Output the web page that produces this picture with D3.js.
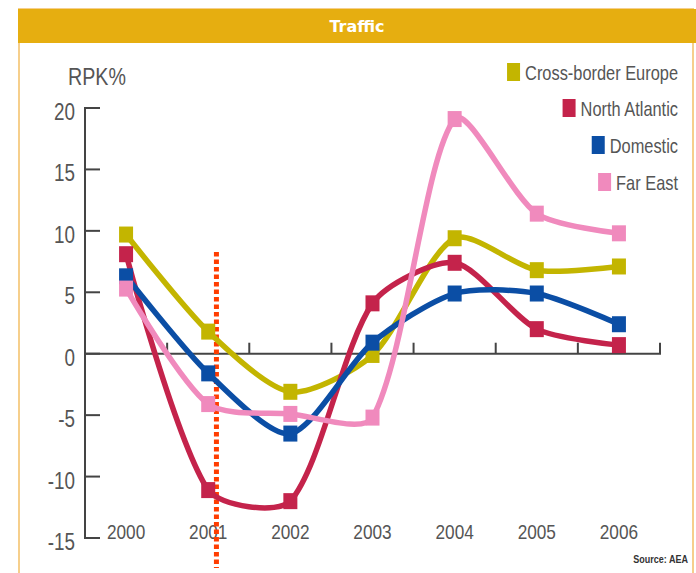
<!DOCTYPE html>
<html>
<head>
<meta charset="utf-8">
<script src="https://cdn.jsdelivr.net/npm/d3@7"></script>
<style>
  body { margin: 0; background: #fff; }
  svg text { font-family: "Liberation Sans", Arial, sans-serif; }
</style>
</head>
<body>
<div id="chart"></div>
<script>
// traffic chart - RPK growth by market
var years = [2000, 2001, 2002, 2003, 2004, 2005, 2006];
var yTicks = [20, 15, 10, 5, 0, -5, -10, -15];

var seriesNames = ["Cross-border Europe", "North Atlantic", "Domestic", "Far East"];
var crossBorder = [9.7, 1.8, -3.1, -0.1, 9.4, 6.8, 7.1];
var northAtlantic = [8.1, -11.1, -12.0, 4.1, 7.4, 2.0, 0.7];
var domestic = [6.3, -1.6, -6.5, 0.9, 4.9, 4.9, 2.4];
var farEast = [5.3, -4.1, -4.9, -5.2, 19.1, 11.4, 9.8];
var markerYear = 2001.1; // dotted line

var colors = ["#c3b500", "#c4234b", "#0b4ea5", "#f08abd"];
var allSeries = [crossBorder, northAtlantic, domestic, farEast];

var W = 696, H = 573;
var sx = 0.82; // squeeze text, the original font is narrow
var smooth = 0.26;

var svg = d3.select('#chart')
    .append('svg')
    .attr('width', W)
    .attr('height', H);

function tr(x, y) { return 'translate(' + x + ',' + y + ') scale(' + sx + ',1)'; }

// frame + header band
svg.append('rect')
    .attr('x', 19).attr('y', 9)
    .attr('width', 674).attr('height', H)
    .attr('fill', '#fff')
    .attr('stroke', '#f6cf8c')
    .attr('stroke-width', 2);
svg.append('rect')
    .attr('x', 18).attr('y', 9)
    .attr('width', W - 18).attr('height', 34)
    .attr('fill', '#e6ae10');
svg.append('text')
    .attr('x', 357).attr('y', 32)
    .attr('text-anchor', 'middle')
    .attr('fill', '#fff')
    .style('font-family', '"DejaVu Sans", sans-serif')
    .style('font-weight', 'bold')
    .style('font-size', '16px')
    .text('Traffic');

var x = d3.scaleBand().domain(years).range([85, 660]).padding(0);
var y = d3.scaleLinear().domain([-15, 20]).range([538, 108]);

// y axis: line with ticks pointing right
var yAxis = svg.append('g');
yAxis.append('line')
    .attr('x1', 85).attr('x2', 85)
    .attr('y1', y(20)).attr('y2', y(-15))
    .attr('stroke', '#444').attr('stroke-width', 2);
yAxis.selectAll('.yt')
    .data(yTicks)
    .enter()
    .append('line')
    .attr('x1', 84).attr('x2', 100)
    .attr('y1', d => y(d)).attr('y2', d => y(d))
    .attr('stroke', '#444').attr('stroke-width', 2);
yAxis.selectAll('.yl')
    .data(yTicks)
    .enter()
    .append('text')
    .attr('transform', d => tr(75, y(d) + 12))
    .attr('text-anchor', 'end')
    .attr('fill', '#555')
    .style('font-size', '23px')
    .text(d => d);

svg.append('text')
    .attr('transform', tr(68, 85))
    .attr('fill', '#555')
    .style('font-size', '24px')
    .text('RPK%');

// x axis at zero, ticks between the years
svg.append('line')
    .attr('x1', 85).attr('x2', 661)
    .attr('y1', y(0)).attr('y2', y(0))
    .attr('stroke', '#444').attr('stroke-width', 2);
svg.selectAll('.xt')
    .data(years)
    .enter()
    .append('line')
    .attr('x1', d => x(d) + x.bandwidth()).attr('x2', d => x(d) + x.bandwidth())
    .attr('y1', y(0)).attr('y2', y(0) - 11)
    .attr('stroke', '#444').attr('stroke-width', 2);
svg.selectAll('.xl')
    .data(years)
    .enter()
    .append('text')
    .attr('transform', d => tr(x(d) + x.bandwidth() / 2, 539))
    .attr('text-anchor', 'middle')
    .attr('fill', '#555')
    .style('font-size', '21px')
    .text(d => d);

// dotted line
var xm = x(2001) + x.bandwidth() / 2 + (markerYear - 2001) * x.bandwidth();
svg.append('line')
    .attr('x1', xm).attr('x2', xm)
    .attr('y1', 252).attr('y2', 568)
    .attr('stroke', '#ff3d00')
    .attr('stroke-width', 5)
    .attr('stroke-dasharray', '4.5,3');

// smoothed line: tangent from neighbours, arm length split by segment length
function smoothPath(s) {
    var pts = s.map((d, i) => [x(years[i]) + x.bandwidth() / 2, y(d)]);
    var n = pts.length;
    var cin = [], cout = [];
    for (var i = 0; i < n; i++) {
        if (i == 0 || i == n - 1) { cin.push(pts[i]); cout.push(pts[i]); continue; }
        var p0 = pts[i - 1], p1 = pts[i], p2 = pts[i + 1];
        var d1 = Math.hypot(p1[0] - p0[0], p1[1] - p0[1]);
        var d2 = Math.hypot(p2[0] - p1[0], p2[1] - p1[1]);
        var tx = p2[0] - p0[0], ty = p2[1] - p0[1];
        var a = smooth * d1 / (d1 + d2), b = smooth * d2 / (d1 + d2);
        cin.push([p1[0] - tx * a, p1[1] - ty * a]);
        cout.push([p1[0] + tx * b, p1[1] + ty * b]);
    }
    var p = d3.path();
    p.moveTo(pts[0][0], pts[0][1]);
    for (var i = 1; i < n; i++) {
        p.bezierCurveTo(cout[i - 1][0], cout[i - 1][1], cin[i][0], cin[i][1], pts[i][0], pts[i][1]);
    }
    return p.toString();
}

allSeries.forEach(function(s, k) {
    svg.append('path')
        .attr('d', smoothPath(s))
        .attr('fill', 'none')
        .attr('stroke', colors[k])
        .attr('stroke-width', 5.5)
        .attr('stroke-linejoin', 'round');
    svg.selectAll('.m' + k)
        .data(s)
        .enter()
        .append('rect')
        .attr('x', (d, i) => x(years[i]) + x.bandwidth() / 2 - 7)
        .attr('y', d => y(d) - 8)
        .attr('width', 14)
        .attr('height', 16)
        .attr('fill', colors[k]);
});

// legend (right aligned)
var legendY = [80, 116, 153, 190];
seriesNames.forEach(function(n, k) {
    var t = svg.append('text')
        .attr('transform', tr(678, legendY[k]))
        .attr('text-anchor', 'end')
        .attr('fill', '#555')
        .style('font-size', '20px')
        .text(n);
    var w = t.node().getComputedTextLength() * sx;
    svg.append('rect')
        .attr('x', 678 - w - 18).attr('y', legendY[k] - 17)
        .attr('width', 13).attr('height', 18)
        .attr('fill', colors[k]);
});

svg.append('text')
    .attr('transform', tr(688, 563))
    .attr('text-anchor', 'end')
    .attr('fill', '#333')
    .style('font-size', '11px')
    .style('font-weight', 'bold')
    .text('Source: AEA');
</script>
</body>
</html>
